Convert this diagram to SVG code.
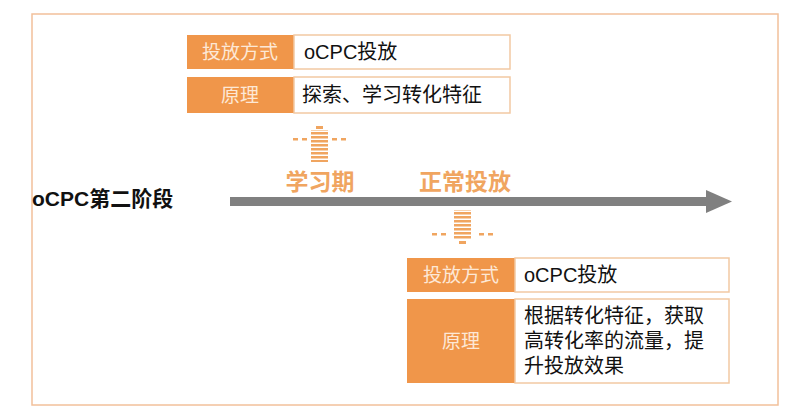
<svg xmlns="http://www.w3.org/2000/svg" width="808" height="414" viewBox="0 0 808 414">
<defs>
<style>
.lab{fill:#f0964a}
.val{fill:#fff;stroke:#f2c9a3;stroke-width:1.5}
.lt{font-family:"Liberation Sans","Noto Sans CJK SC",sans-serif;font-size:19px;fill:#fde8d6}
.vt{font-family:"Liberation Sans","Noto Sans CJK SC",sans-serif;font-size:20px;fill:#111}
.ph{font-family:"Noto Sans CJK SC",sans-serif;font-weight:bold;font-size:23px;fill:#f0a560}
.bar{fill:#f0a560}
</style>
<pattern id="dots" width="4" height="4" patternUnits="userSpaceOnUse"><rect width="4" height="2.5" fill="#f0a560"/></pattern>
</defs>
<rect x="32" y="14" width="746" height="391" fill="#fff" stroke="#f2c09a" stroke-width="1.5"/>
<g id="connectors">
<rect x="230" y="197" width="480" height="9" fill="#808080"/>
<polygon points="706,190 732,201.5 706,213" fill="#808080"/>
</g>
<g id="title"><text x="32" y="206" font-family="Liberation Sans,'Noto Sans CJK SC',sans-serif" font-weight="bold" font-size="21" fill="#111">oCPC第二阶段</text></g>
<g id="top-box">
<rect class="lab" x="187" y="35" width="107" height="34"/>
<rect class="val" x="294" y="35" width="216" height="34"/>
<text class="lt" x="240" y="59" text-anchor="middle">投放方式</text>
<text class="vt" x="304" y="59">oCPC投放</text>
<rect class="lab" x="187" y="77" width="107" height="36"/>
<rect class="val" x="294" y="77" width="216" height="36"/>
<text class="lt" x="240" y="102" text-anchor="middle">原理</text>
<text class="vt" x="302" y="102">探索、学习转化特征</text>
</g>
<g id="learn-icon">
<rect x="311" y="130" width="17" height="32" fill="url(#dots)"/>
<rect x="316" y="126" width="7" height="3" class="bar"/>
<rect x="293" y="138" width="5" height="2.5" class="bar"/><rect x="302" y="138" width="5" height="2.5" class="bar"/>
<rect x="332" y="138" width="5" height="2.5" class="bar"/><rect x="341" y="138" width="5" height="2.5" class="bar"/>
</g>
<g id="learn"><text class="ph" x="320" y="190" text-anchor="middle">学习期</text></g>
<g id="normal"><text class="ph" x="465" y="190" text-anchor="middle">正常投放</text></g>
<g id="normal-icon">
<rect x="454" y="210" width="17" height="30" fill="url(#dots)"/>
<rect x="459" y="241" width="7" height="3" class="bar"/>
<rect x="432" y="233" width="5" height="2.5" class="bar"/><rect x="441" y="233" width="5" height="2.5" class="bar"/>
<rect x="479" y="233" width="5" height="2.5" class="bar"/><rect x="488" y="233" width="5" height="2.5" class="bar"/>
</g>
<g id="bottom-box">
<rect class="lab" x="407" y="258" width="108" height="34"/>
<rect class="val" x="515" y="258" width="214" height="34"/>
<text class="lt" x="461" y="282" text-anchor="middle">投放方式</text>
<text class="vt" x="524" y="282">oCPC投放</text>
<rect class="lab" x="407" y="299" width="108" height="84"/>
<rect class="val" x="515" y="299" width="214" height="84"/>
<text class="lt" x="461" y="348" text-anchor="middle">原理</text>
<text class="vt" x="524" y="323">根据转化特征，获取</text>
<text class="vt" x="524" y="348">高转化率的流量，提</text>
<text class="vt" x="524" y="373">升投放效果</text>
</g>
</svg>
